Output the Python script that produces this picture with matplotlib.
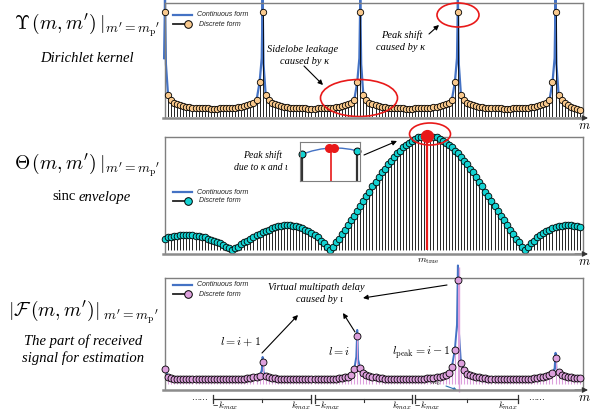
import matplotlib
matplotlib.use("Agg")
import matplotlib.pyplot as plt
from matplotlib.lines import Line2D
from matplotlib.patches import Ellipse, FancyArrowPatch

W, H = 600, 413

plt.rcParams["mathtext.fontset"] = "cm"
plt.rcParams["font.family"] = ["Liberation Serif", "DejaVu Serif"]

# ---- data (sample index n = 0..136) ----
# Dirichlet kernel: one period of 32 samples starting at a peak, plus the tail
dirichlet_period = [1.00, 0.21, 0.16, 0.13, 0.12, 0.11, 0.105, 0.10, 0.095, 0.09,
                    0.09, 0.085, 0.085, 0.085, 0.085, 0.08, 0.08, 0.08, 0.085, 0.085,
                    0.085, 0.09, 0.09, 0.09, 0.095, 0.10, 0.105, 0.11, 0.12, 0.13,
                    0.16, 0.33]
dirichlet_tail = [1.00, 0.21, 0.16, 0.13, 0.11, 0.10, 0.09, 0.08, 0.07]
dirichlet_disc = dirichlet_period * 4 + dirichlet_tail
dirichlet_peaks = [0, 32, 64, 96, 128]
dirichlet_spike = [1.12, 1.12, 1.12, 1.12, 1.12]

sinc_disc = [
    0.10, 0.11, 0.11, 0.12, 0.12, 0.13, 0.13, 0.13, 0.13, 0.13,
    0.12, 0.12, 0.11, 0.11, 0.10, 0.09, 0.08, 0.07, 0.06, 0.04,
    0.03, 0.02, 0.00,
    0.02, 0.03, 0.05, 0.07, 0.08, 0.10, 0.11, 0.13, 0.14, 0.16,
    0.17, 0.18, 0.19, 0.20, 0.21, 0.21, 0.22, 0.22, 0.22, 0.21,
    0.21, 0.20, 0.19, 0.18, 0.17, 0.15, 0.13, 0.11, 0.08, 0.06,
    0.03, 0.00,
    0.03, 0.07, 0.10, 0.14, 0.18, 0.22, 0.26, 0.30, 0.34, 0.39,
    0.43, 0.47, 0.51, 0.56, 0.60, 0.64, 0.68, 0.71, 0.75, 0.78,
    0.82, 0.85, 0.87, 0.90, 0.92, 0.94, 0.96, 0.97, 0.99, 0.99,
    1.00, 1.00, 1.00, 0.99, 0.99, 0.97, 0.96, 0.94, 0.92, 0.90,
    0.87, 0.85, 0.82, 0.78, 0.75, 0.71, 0.68, 0.64, 0.60, 0.56,
    0.51, 0.47, 0.43, 0.39, 0.34, 0.30, 0.26, 0.22, 0.18, 0.14,
    0.10, 0.07, 0.03, 0.00,
    0.03, 0.06, 0.08, 0.11, 0.13, 0.15, 0.17, 0.18, 0.19, 0.20,
    0.21, 0.21, 0.22, 0.22, 0.22, 0.21, 0.21, 0.20,
]
sinc_true = 86

# inset (zoom on the sinc peak)
inset_x = [0.04, 0.20, 0.35, 0.52, 0.70, 0.85, 0.95]
inset_arc = [0.69, 0.77, 0.82, 0.85, 0.84, 0.81, 0.77]
inset_disc_x = [0.04, 0.95]
inset_disc_y = [0.69, 0.77]
inset_red_x = [0.49, 0.56]
inset_red_y = [0.85, 0.85]

received_disc = (
    [0.14, 0.07, 0.06] + [0.05] * 24
    + [0.055, 0.06, 0.065, 0.07, 0.08, 0.21, 0.08, 0.07, 0.06, 0.055]
    + [0.05] * 20
    + [0.055, 0.06, 0.065, 0.07, 0.09, 0.14, 0.46, 0.15, 0.11, 0.09,
       0.08, 0.07, 0.065, 0.06, 0.055]
    + [0.05] * 14
    + [0.055, 0.06, 0.06, 0.065, 0.07, 0.08, 0.09, 0.11, 0.16, 0.33,
       1.00, 0.20, 0.13, 0.10, 0.09, 0.08, 0.07, 0.065, 0.06, 0.055]
    + [0.05] * 15
    + [0.055, 0.06, 0.065, 0.07, 0.08, 0.09, 0.11, 0.25, 0.12, 0.09,
       0.08, 0.07, 0.065, 0.06, 0.06, 0.055]
)
received_peaks = [32, 63, 96, 128]
received_spike = [0.26, 0.52, 1.14, 0.30]
m0_index = 96

BLUE = "#4472C4"
ORANGE = "#F9C98D"
CYAN = "#14D2D2"
PLUM = "#DDA0DD"
RED = "#E81919"
GRAY = "#7F7F7F"

SUB = r"|_{m'=m_{\mathrm{p}}{}^{\prime}}$"


def fp(x, y):
    return x / W, 1 - y / H


def line(fig, xs, ys, **kw):
    fig.add_artist(Line2D([x / W for x in xs], [1 - y / H for y in ys], **kw))


def arrow(fig, a, b, color="k", lw=0.8, ms=7):
    fig.add_artist(FancyArrowPatch(fp(*a), fp(*b), transform=fig.transFigure,
                                   arrowstyle="-|>", mutation_scale=ms,
                                   lw=lw, color=color, shrinkA=0, shrinkB=0))


def ellipse(fig, cx, cy, w, h):
    fig.add_artist(Ellipse(fp(cx, cy), w / W, h / H, transform=fig.transFigure,
                           fill=False, ec=RED, lw=1.2))


def panel(fig, top, bottom, ylim):
    ax = fig.add_axes([165 / W, 1 - bottom / H, 418 / W, (bottom - top) / H])
    ax.set_xlim(0, 137)
    ax.set_ylim(*ylim)
    ax.set_xticks([])
    ax.set_yticks([])
    for s in ("left", "top", "right"):
        ax.spines[s].set_color(GRAY)
        ax.spines[s].set_linewidth(1.0)
    ax.spines["bottom"].set_visible(False)
    y = bottom + 1
    line(fig, [163, 580], [y, y], color="#8C8C8C", lw=1.8)
    arrow(fig, (575, y), (588, y), color="#333333", ms=8)
    fig.text(*fp(584, bottom + 9), "$m$", fontsize=9, ha="center", va="center")
    return ax


def legend(fig, y, mcolor):
    line(fig, [173, 192], [y, y], color=BLUE, lw=1.6)
    fig.text(*fp(197, y), "Continuous form", fontsize=5, style="italic",
             family="Liberation Sans", va="center", color="#222222")
    line(fig, [173, 188], [y + 9, y + 9], color="#222222", lw=1.3)
    line(fig, [188], [y + 9], marker="o", ms=5.5, mfc=mcolor, mec="k", mew=0.7)
    fig.text(*fp(199, y + 9), "Discrete form", fontsize=5, style="italic",
             family="Liberation Sans", va="center", color="#222222")


def continuous(disc, peaks, tops):
    xs, ys = [], []
    for n, v in enumerate(disc):
        if n in peaks:
            top = tops[peaks.index(n)]
            xs += [n - 0.3, n, n + 0.3]
            ys += [top * 0.5, top, top * 0.45]
        else:
            xs.append(n)
            ys.append(v)
    return xs, ys


fig = plt.figure(figsize=(6, 4.13), dpi=100)
n = list(range(137))

# ---- panel 1: Dirichlet kernel ----
ax1 = panel(fig, 3, 117, (0, 1.086))
cx, cy = continuous(dirichlet_disc, dirichlet_peaks, dirichlet_spike)
ax1.plot(cx, cy, color=BLUE, lw=1.6, clip_on=False, zorder=1)
ax1.vlines(n, 0, dirichlet_disc, colors="k", lw=0.6, zorder=2)
ax1.plot(n, dirichlet_disc, "o", ms=4.6, mfc=ORANGE, mec="k", mew=0.6,
         clip_on=False, zorder=3)
legend(fig, 15, ORANGE)
ellipse(fig, 359, 98, 77, 37)
ellipse(fig, 458, 15, 42, 24)
fig.text(*fp(303, 50), "Sidelobe leakage", fontsize=7.5, style="italic",
         ha="center", va="center")
fig.text(*fp(305, 62), "caused by κ", fontsize=7.5, style="italic",
         ha="center", va="center")
arrow(fig, (304, 66), (323, 85))
fig.text(*fp(402, 35), "Peak shift", fontsize=7.5, style="italic",
         ha="center", va="center")
fig.text(*fp(401, 48), "caused by κ", fontsize=7.5, style="italic",
         ha="center", va="center")
arrow(fig, (429, 34), (439, 25))

# ---- panel 2: sinc envelope ----
ax2 = panel(fig, 137, 253, (-0.026, 0.991))
ax2.plot(n, sinc_disc, color=BLUE, lw=1.0, zorder=1)
ax2.vlines(n, 0, sinc_disc, colors="k", lw=0.6, zorder=2)
ax2.plot(n, sinc_disc, "o", ms=4.8, mfc=CYAN, mec="k", mew=0.6,
         clip_on=False, zorder=3)
ax2.vlines(sinc_true, 0, sinc_disc[sinc_true], colors=RED, lw=1.6, zorder=4)
ax2.plot(sinc_true, sinc_disc[sinc_true], "o", ms=8.5, color=RED,
         clip_on=False, zorder=5)
fig.text(*fp(428, 261), r"$m_{\mathrm{true}}$", fontsize=7, ha="center", va="center")
legend(fig, 192, CYAN)
ellipse(fig, 430, 134, 41, 22)

ins = fig.add_axes([300 / W, 1 - 181 / H, 60 / W, 39 / H])
ins.set_xlim(0, 1)
ins.set_ylim(0, 1)
ins.set_xticks([])
ins.set_yticks([])
for s in ins.spines.values():
    s.set_color(GRAY)
ins.plot(inset_x, inset_arc, color=BLUE, lw=1.0)
ins.vlines(inset_disc_x, 0, inset_disc_y, colors="#333333", lw=1.6)
ins.plot(inset_disc_x, inset_disc_y, "o", ms=5, mfc=CYAN, mec="k", mew=0.7,
         clip_on=False)
ins.vlines(inset_x[3], 0, inset_arc[3], colors=RED, lw=1.2)
ins.plot(inset_red_x, inset_red_y, "o", ms=5.5, color=RED, clip_on=False)
fig.text(*fp(263, 155), "Peak shift", fontsize=7, style="italic",
         ha="center", va="center")
fig.text(*fp(261, 167), "due to κ and ι", fontsize=7, style="italic",
         ha="center", va="center")
arrow(fig, (364, 155), (397, 141))

# ---- panel 3: received signal ----
ax3 = panel(fig, 278, 389, (-0.048, 1.019))
cx, cy = continuous(received_disc, received_peaks, received_spike)
ax3.plot(cx, cy, color=BLUE, lw=1.4, clip_on=False, zorder=1)
ax3.vlines(n, 0, received_disc, colors=PLUM, lw=0.8, zorder=2)
ax3.vlines(m0_index + 0.3, -0.08, 1.12, colors=PLUM, lw=1.0, zorder=2,
           clip_on=False)
ax3.plot(n, received_disc, "o", ms=5.0, mfc=PLUM, mec="k", mew=0.6,
         clip_on=False, zorder=3)
legend(fig, 285, PLUM)
fig.text(*fp(316, 288), "Virtual multipath delay", fontsize=7.5, style="italic",
         ha="center", va="center")
fig.text(*fp(319, 299), "caused by ι", fontsize=7.5, style="italic",
         ha="center", va="center")
arrow(fig, (262, 353), (298, 315))
arrow(fig, (355, 332), (343, 313))
arrow(fig, (447, 285), (363, 298))
fig.text(*fp(241, 342), r"$l=i+1$", fontsize=8.5, ha="center", va="center")
fig.text(*fp(339, 352), r"$l=i$", fontsize=8.5, ha="center", va="center")
fig.text(*fp(421, 353), r"$l_{\mathrm{peak}}=i-1$", fontsize=8.5,
         ha="center", va="center")
fig.text(*fp(435, 384), r"$m_0$", fontsize=5, ha="center", va="center")
arrow(fig, (446, 386), (457, 390), color="#2E75B6", lw=0.8, ms=4)

# brackets under panel 3
segments = [(213, 311), (315, 412), (415, 518)]
for a, b in segments:
    line(fig, [a, b], [399, 399], color="#333333", lw=0.9)
    line(fig, [a, a], [395, 403], color="#333333", lw=0.9)
    line(fig, [b, b], [395, 403], color="#333333", lw=0.9)
    line(fig, [(a + b) / 2] * 2, [399, 401.5], color="#333333", lw=0.8)
    fig.text(*fp(a + 12, 406), "\u2212" + r"$\,k_{max}$", fontsize=6.8,
             ha="center", va="center")
    fig.text(*fp(b - 10, 406), r"$k_{max}$", fontsize=6.8, ha="center", va="center")
fig.text(*fp(199, 398), "……", fontsize=6, ha="center", va="center")
fig.text(*fp(536, 398), "……", fontsize=6, ha="center", va="center")

# ---- left-hand labels ----
fig.text(*fp(87, 25), r"$\mathit{\Upsilon}\,(m,m')\," + SUB,
         fontsize=14, ha="center", va="center")
fig.text(*fp(87, 58), "Dirichlet kernel", fontsize=10.5, style="italic",
         ha="center", va="center")
fig.text(*fp(87, 165), r"$\mathit{\Theta}\,(m,m')\," + SUB,
         fontsize=14, ha="center", va="center")
fig.text(*fp(76, 197), "sinc", fontsize=10.5, ha="right", va="center")
fig.text(*fp(79, 197), "envelope", fontsize=10.5, style="italic",
         ha="left", va="center")
fig.text(*fp(83, 312), r"$|\mathcal{F}\,(m,m')|\," + SUB[1:],
         fontsize=14, ha="center", va="center")
fig.text(*fp(83, 341), "The part of received", fontsize=10.5, style="italic",
         ha="center", va="center")
fig.text(*fp(83, 358), "signal for estimation", fontsize=10.5, style="italic",
         ha="center", va="center")

fig.savefig("out.png", dpi=100)
